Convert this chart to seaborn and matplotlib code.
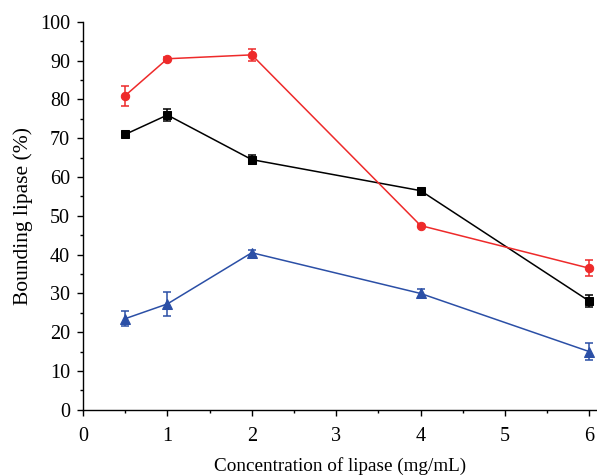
import matplotlib
matplotlib.use("Agg")
import matplotlib.pyplot as plt
import seaborn as sns
import pandas as pd
from matplotlib.ticker import MultipleLocator

conc = [0.5, 1, 2, 4, 6]
black_y = [71.0, 76.0, 64.5, 56.5, 28.0]
black_err = [0.6, 1.6, 1.1, 0.5, 1.5]
red_y = [81.0, 90.5, 91.5, 47.5, 36.5]
red_err = [2.6, 0.5, 1.6, 0.4, 2.1]
blue_y = [23.5, 27.3, 40.5, 30.0, 15.0]
blue_err = [2.0, 3.2, 0.6, 1.1, 2.1]

series = [
    ("black", black_y, black_err, "#000000", "s", 5.5),
    ("red", red_y, red_err, "#ee2a2a", "o", 6),
    ("blue", blue_y, blue_err, "#2b4fa6", "^", 6.5),
]

sns.set_theme(style="ticks")
plt.rcParams["font.family"] = ["Liberation Serif", "DejaVu Serif"]

fig = plt.figure(figsize=(5.97, 4.76), dpi=100)
ax = fig.add_axes([0.139, 0.139, 0.861, 0.815])

for name, y, e, c, m, ms in series:
    df = pd.DataFrame({"x": conc, "y": y})
    sns.lineplot(data=df, x="x", y="y", ax=ax, color=c, marker=m,
                 markersize=ms, markeredgecolor=c, linewidth=1.1, zorder=3)
    ax.errorbar(conc, y, yerr=e, fmt="none", ecolor=c, elinewidth=1.1,
                capsize=3, capthick=1.1, zorder=2)

ax.set_xlim(0, 6.09)
ax.set_ylim(0, 100)
ax.xaxis.set_major_locator(MultipleLocator(1))
ax.xaxis.set_minor_locator(MultipleLocator(0.5))
ax.yaxis.set_major_locator(MultipleLocator(10))
ax.yaxis.set_minor_locator(MultipleLocator(5))
ax.tick_params(which="major", direction="out", length=4.3, width=1, labelsize=14.5,
               color="black", labelcolor="black")
ax.tick_params(axis="x", which="major", pad=8)
ax.tick_params(axis="y", which="major", pad=5)
ax.tick_params(which="minor", direction="out", length=2.5, width=1, color="black")
for s in ["top", "right"]:
    ax.spines[s].set_visible(False)
for s in ["left", "bottom"]:
    ax.spines[s].set_color("black")
    ax.spines[s].set_linewidth(1)

ax.set_xlabel("Concentration of lipase (mg/mL)", fontsize=13.8, color="black", labelpad=8)
ax.set_ylabel("Bounding lipase (%)", fontsize=15.5, color="black", labelpad=5)

fig.savefig("out.png", dpi=100)
